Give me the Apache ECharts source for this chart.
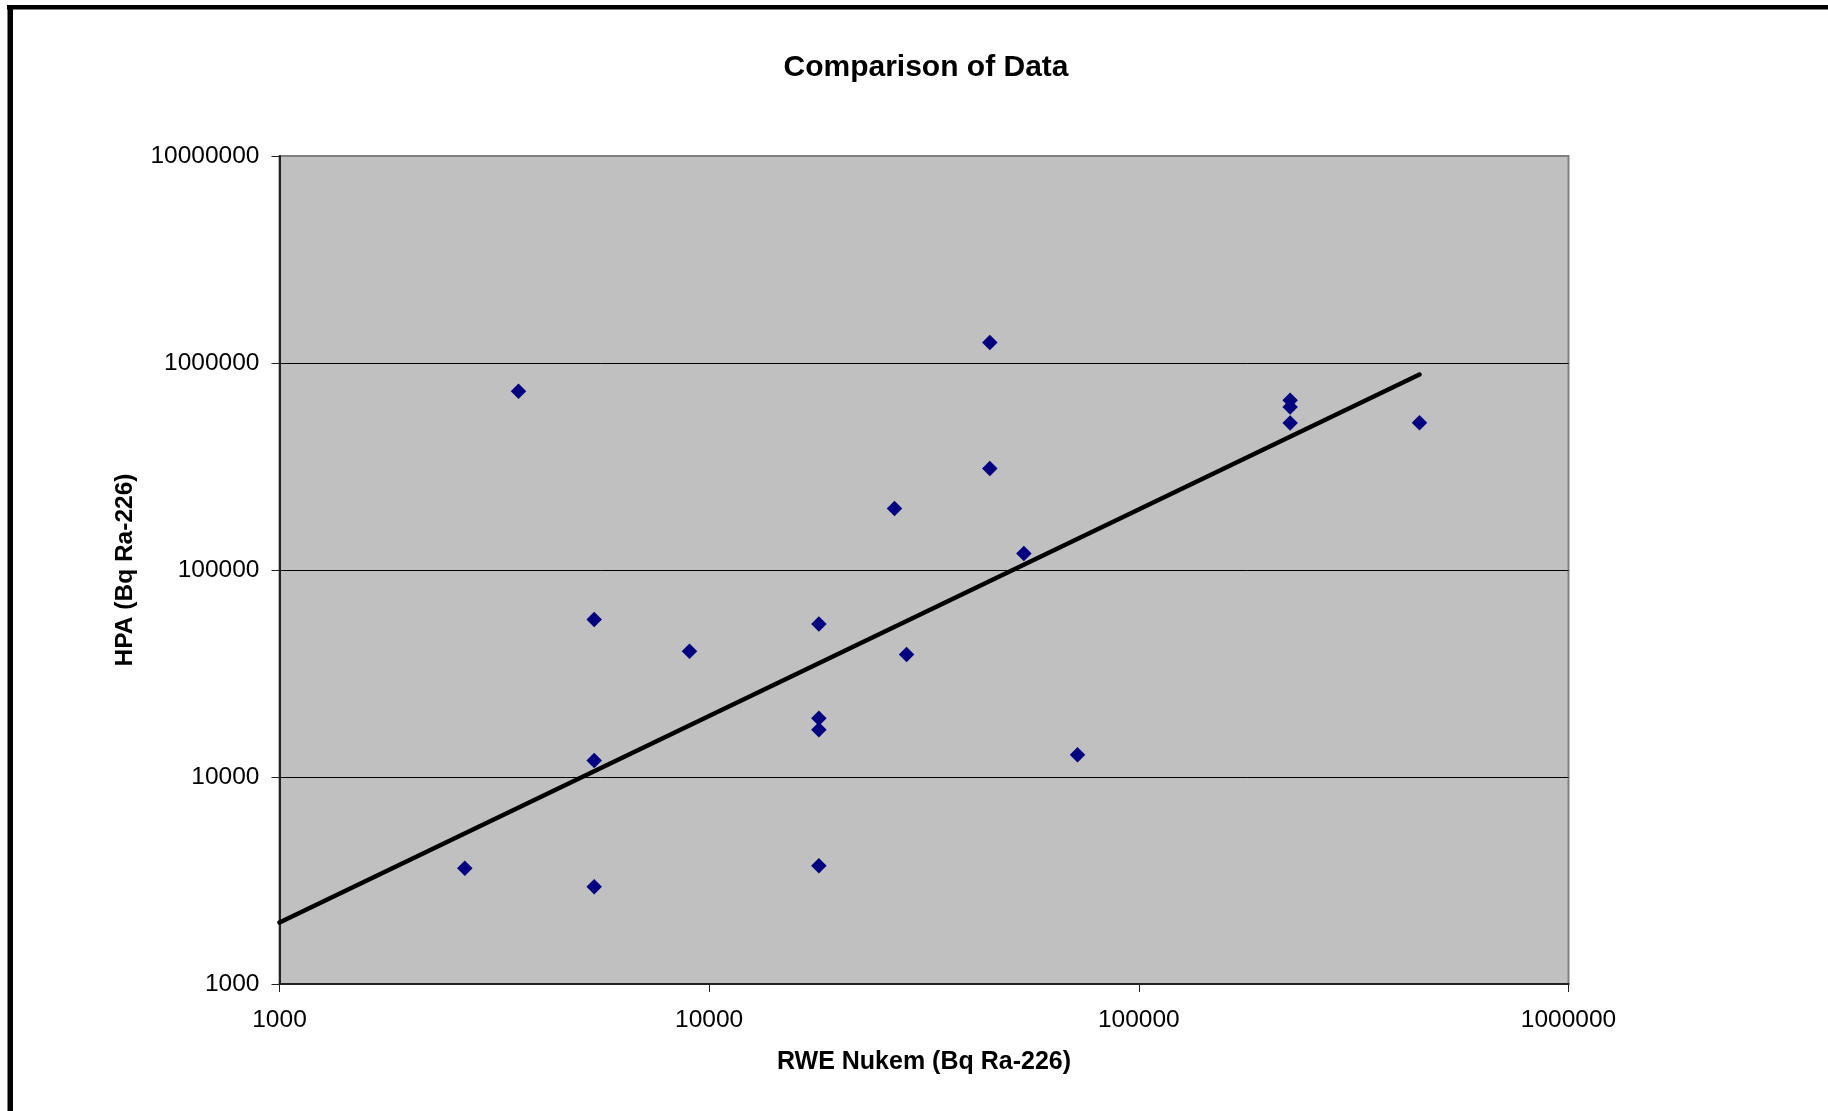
<!DOCTYPE html>
<html>
<head>
<meta charset="utf-8">
<script src="https://cdn.jsdelivr.net/npm/echarts@6/dist/echarts.min.js"></script>
<style>
html,body{margin:0;padding:0;background:#fff;}
#chart{width:1828px;height:1111px;}
</style>
</head>
<body>
<div id="chart"></div>
<script>
// Data
const rweNukem = [3600, 45000, 45000, 27000, 54000, 5400, 9000, 18000, 28800, 18000, 18000, 5400, 72000, 2700, 5400, 18000, 225000, 225000, 225000, 450000];
const hpa      = [730000, 1255000, 309000, 198000, 120000, 57700, 40500, 54900, 39100, 19200, 16900, 12000, 12800, 3620, 2950, 3730, 661000, 613000, 513000, 514000];
// Power trendline endpoints (straight on log-log axes)
const trendX = [1000, 450000];
const trendY = [1980, 880000];
const xTickLabels = ['1000', '10000', '100000', '1000000'];
const yTickLabels = ['1000', '10000', '100000', '1000000', '10000000'];

const FONT = '"Liberation Sans", Arial, sans-serif';
const chart = echarts.init(document.getElementById('chart'));

function labelFor(labels, base) {
  return function (v) {
    const i = Math.round(Math.log10(v)) - base;
    return labels[i] !== undefined ? labels[i] : '';
  };
}

chart.setOption({
  animation: false,
  backgroundColor: '#ffffff',
  title: {
    text: 'Comparison of Data',
    left: 921,
    top: 48,
    textAlign: 'center',
    textStyle: { fontFamily: FONT, fontSize: 30, fontWeight: 'bold', color: '#000' }
  },
  grid: {
    left: 279.5, right: 259.5, top: 156, bottom: 127,
    show: true, backgroundColor: '#C0C0C0', borderColor: '#808080', borderWidth: 2
  },
  xAxis: {
    type: 'log', logBase: 10, min: 1000, max: 1000000,
    name: 'RWE Nukem (Bq Ra-226)', nameLocation: 'middle', nameGap: 66,
    nameTextStyle: { fontFamily: FONT, fontSize: 25, fontWeight: 'bold', color: '#000' },
    axisLine: { show: true, lineStyle: { color: '#222', width: 2 } },
    axisTick: { show: true, inside: false, length: 8, lineStyle: { color: '#222', width: 1 } },
    minorTick: { show: false },
    axisLabel: { margin: 24, formatter: labelFor(xTickLabels, 3), fontFamily: FONT, fontSize: 24.5, color: '#000' },
    splitLine: { show: false }
  },
  yAxis: {
    type: 'log', logBase: 10, min: 1000, max: 10000000,
    name: 'HPA (Bq Ra-226)', nameLocation: 'middle', nameGap: 142,
    nameTextStyle: { fontFamily: FONT, fontSize: 24.5, fontWeight: 'bold', color: '#000' },
    axisLine: { show: true, lineStyle: { color: '#222', width: 2 } },
    axisTick: { show: true, inside: false, length: 8, lineStyle: { color: '#222', width: 1 } },
    minorTick: { show: false },
    axisLabel: { margin: 20, formatter: labelFor(yTickLabels, 3), fontFamily: FONT, fontSize: 24.5, color: '#000' },
    splitLine: { show: true, showMinLine: false, showMaxLine: false, lineStyle: { color: '#000', width: 1 } }
  },
  series: [
    {
      type: 'scatter',
      data: rweNukem.map((x, i) => [x, hpa[i]]),
      symbol: 'diamond',
      symbolSize: 15.5,
      itemStyle: { color: '#000080', opacity: 1 },
      z: 3
    },
    {
      type: 'line',
      data: trendX.map((x, i) => [x, trendY[i]]),
      showSymbol: false,
      symbol: 'none',
      lineStyle: { color: '#000', width: 4.5, cap: 'round' },
      z: 4
    }
  ],
  graphic: [
    { type: 'rect', shape: { x: 7, y: 5, width: 1821, height: 4.5 }, style: { fill: '#000' }, z: 100 },
    { type: 'rect', shape: { x: 7.5, y: 5, width: 5.5, height: 1106 }, style: { fill: '#000' }, z: 100 }
  ]
});
</script>
</body>
</html>
